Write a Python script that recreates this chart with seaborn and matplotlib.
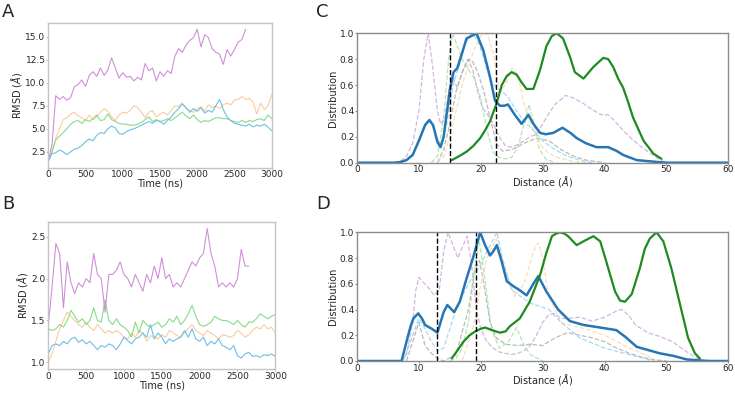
import matplotlib.pyplot as plt
import numpy as np
import seaborn as sns
from matplotlib.ticker import FormatStrFormatter

sns.set_style("ticks")
plt.rcParams["font.family"] = ["DejaVu Sans"]

# ---- RMSD traces (time sampled every 50 ns) ----
time = np.arange(0, 3001, 50)

a_purple = [1.5, 3.3, 8.6, 8.2, 8.5, 8.1, 8.4, 9.6, 9.8, 10.3, 9.6, 10.8, 11.2, 10.7, 11.6, 10.8, 11.4, 12.7,
            11.6, 10.5, 11.1, 10.6, 10.7, 10.2, 10.6, 10.3, 12.1, 11.3, 11.6, 10.2, 11.2, 10.7, 11.3, 11.0,
            12.9, 13.7, 13.3, 14.1, 14.6, 14.9, 15.8, 13.9, 15.2, 14.9, 13.7, 13.3, 13.1, 12.0, 13.6, 12.9,
            13.6, 14.4, 14.7, 15.8]
a_orange = [1.5, 2.5, 4.0, 5.0, 6.0, 6.2, 6.6, 6.8, 6.4, 6.2, 5.9, 6.5, 6.0, 6.3, 6.8, 7.2, 6.9, 6.3, 5.9, 6.5,
            6.8, 6.7, 7.0, 7.5, 7.3, 6.8, 6.2, 6.8, 7.0, 6.3, 6.6, 6.8, 6.5, 7.0, 7.5, 7.4, 7.8, 7.2, 7.0, 6.8,
            7.2, 7.4, 6.9, 7.6, 7.3, 7.5, 7.2, 7.6, 7.8, 7.6, 8.1, 8.2, 8.5, 8.2, 8.3, 7.9, 6.6, 7.8, 7.1, 7.5, 8.7]
a_green = [1.5, 2.5, 3.8, 4.2, 4.6, 5.0, 5.5, 5.8, 5.9, 5.6, 6.0, 5.8, 6.1, 6.5, 5.9, 6.0, 6.6, 6.0, 5.8, 5.6,
           5.5, 5.5, 5.4, 5.4, 5.5, 5.7, 6.0, 6.3, 5.8, 6.0, 5.8, 5.9, 6.1, 5.9, 6.2, 6.5, 6.8, 6.4, 6.1, 6.5,
           6.0, 5.7, 5.9, 5.8, 6.0, 6.2, 6.2, 6.1, 6.1, 5.9, 5.8, 5.7, 5.9, 5.7, 5.9, 5.8, 6.0, 6.1, 5.9, 6.5, 6.1]
a_blue = [1.5, 2.3, 2.4, 2.7, 2.5, 2.2, 2.5, 2.8, 2.9, 3.2, 3.6, 3.9, 3.7, 4.3, 4.6, 4.5, 5.0, 5.3, 5.1, 4.5,
          4.4, 4.7, 4.9, 5.0, 5.2, 5.4, 5.6, 5.8, 5.6, 5.9, 5.8, 5.5, 5.9, 6.3, 6.8, 7.2, 7.7, 7.3, 6.8, 7.2,
          6.9, 7.3, 6.7, 7.0, 6.8, 7.5, 8.2, 7.1, 6.3, 5.9, 5.6, 5.5, 5.4, 5.3, 5.5, 5.2, 5.4, 5.3, 5.5, 5.2, 4.8]

b_purple = [1.45, 1.9, 2.42, 2.3, 1.65, 2.2, 1.95, 1.82, 1.95, 1.9, 2.0, 1.95, 2.3, 2.05, 2.0, 1.6, 2.05, 2.05,
            2.1, 2.2, 2.05, 2.0, 1.9, 2.05, 1.95, 1.85, 2.05, 1.95, 2.15, 2.0, 2.25, 2.0, 2.05, 1.9, 1.95, 1.9,
            2.0, 2.1, 2.2, 2.15, 2.25, 2.3, 2.6, 2.3, 2.15, 1.9, 1.95, 1.9, 1.95, 1.9, 2.0, 2.35, 2.15, 2.15]
b_orange = [1.0, 1.1, 1.25, 1.4, 1.5, 1.6, 1.55, 1.5, 1.45, 1.42, 1.48, 1.42, 1.38, 1.45, 1.4, 1.35, 1.38, 1.35,
            1.38, 1.35, 1.3, 1.28, 1.35, 1.3, 1.38, 1.35, 1.25, 1.32, 1.3, 1.28, 1.33, 1.3, 1.38, 1.35, 1.32,
            1.3, 1.35, 1.4, 1.45, 1.38, 1.35, 1.32, 1.38, 1.35, 1.32, 1.28, 1.33, 1.32, 1.3, 1.32, 1.38, 1.35,
            1.3, 1.33, 1.38, 1.42, 1.4, 1.45, 1.4, 1.42, 1.35]
b_green = [1.4, 1.38, 1.4, 1.45, 1.42, 1.5, 1.62, 1.55, 1.48, 1.52, 1.45, 1.5, 1.65, 1.5, 1.48, 1.75, 1.5, 1.45,
           1.52, 1.45, 1.42, 1.38, 1.3, 1.48, 1.35, 1.5, 1.45, 1.42, 1.45, 1.48, 1.42, 1.45, 1.52, 1.48, 1.55,
           1.45, 1.5, 1.58, 1.68, 1.55, 1.45, 1.43, 1.45, 1.48, 1.55, 1.52, 1.5, 1.5, 1.48, 1.45, 1.5, 1.45,
           1.42, 1.48, 1.48, 1.52, 1.58, 1.55, 1.52, 1.55, 1.57]
b_blue = [1.1, 1.2, 1.22, 1.2, 1.25, 1.22, 1.28, 1.3, 1.24, 1.27, 1.22, 1.25, 1.2, 1.15, 1.2, 1.18, 1.22, 1.2,
          1.15, 1.22, 1.3, 1.26, 1.22, 1.28, 1.3, 1.35, 1.3, 1.45, 1.28, 1.35, 1.3, 1.22, 1.28, 1.25, 1.28, 1.3,
          1.38, 1.3, 1.4, 1.28, 1.25, 1.3, 1.2, 1.25, 1.22, 1.28, 1.2, 1.18, 1.15, 1.2, 1.08, 1.05, 1.1, 1.12,
          1.07, 1.08, 1.06, 1.09, 1.08, 1.1, 1.07]

a_yticks = [2.5, 5.0, 7.5, 10.0, 12.5, 15.0]
b_yticks = [1.0, 1.5, 2.0, 2.5]

# ---- distance distributions ----
c_blue_x = [0, 6, 7, 8, 9, 10, 11, 11.7, 12.3, 13, 13.5, 14, 14.5, 15, 15.6, 16.2, 17, 17.7, 18.5, 19.3,
            20.4, 21.5, 22.3, 23.1, 23.8, 24.4, 25.5, 26.6, 27.7, 28.5, 29.6, 30.5, 31.7, 33.2, 34.5, 35.5,
            37, 38.7, 40.6, 42, 43, 45.2, 47, 48.4, 50, 60]
c_blue_y = [0, 0, 0.005, 0.02, 0.06, 0.17, 0.29, 0.33, 0.29, 0.16, 0.12, 0.2, 0.38, 0.56, 0.70, 0.73, 0.85,
            0.96, 0.98, 1.0, 0.87, 0.66, 0.48, 0.44, 0.44, 0.45, 0.37, 0.30, 0.37, 0.30, 0.23, 0.22, 0.23,
            0.27, 0.23, 0.19, 0.15, 0.12, 0.12, 0.09, 0.06, 0.02, 0.012, 0.006, 0.0, 0.0]
c_green_x = [15.3, 16.5, 17.7, 18.8, 19.9, 20.7, 21.5, 22.5, 23.4, 24.2, 25.0, 25.8, 26.6, 27.4, 28.5, 29.6,
             30.6, 31.5, 32.3, 33.3, 34.4, 35.2, 36.6, 38.2, 39.8, 40.6, 41.4, 42.2, 43.0, 43.8, 44.6, 46.3,
             47.9, 49.2]
c_green_y = [0.02, 0.05, 0.085, 0.13, 0.19, 0.25, 0.32, 0.45, 0.60, 0.67, 0.70, 0.68, 0.62, 0.57, 0.57, 0.72,
             0.90, 0.98, 1.0, 0.96, 0.82, 0.70, 0.65, 0.74, 0.81, 0.80, 0.74, 0.65, 0.58, 0.47, 0.35, 0.17,
             0.07, 0.03]
c_purple_x = [6, 7, 8, 9, 10, 10.8, 11.5, 12.2, 13, 13.5, 14.2, 15, 15.5, 16.2, 17, 17.9, 18.7, 19.5, 20.3,
              21, 22, 23, 24, 25, 26, 27, 28, 29, 30, 31, 32, 33.7, 35, 36.5, 38, 39.5, 40.6, 41.5, 43, 44.5,
              46, 47.5, 49, 50]
c_purple_y = [0, 0.01, 0.05, 0.15, 0.4, 0.8, 1.0, 0.75, 0.4, 0.3, 0.35, 0.6, 0.65, 0.58, 0.7, 0.8, 0.72,
              0.55, 0.42, 0.38, 0.3, 0.2, 0.13, 0.12, 0.14, 0.17, 0.2, 0.22, 0.3, 0.38, 0.45, 0.52, 0.5, 0.46,
              0.41, 0.37, 0.37, 0.33, 0.25, 0.18, 0.12, 0.07, 0.02, 0]
c_grey_x = [13, 14, 15, 16, 17, 18, 18.7, 19.5, 20.5, 21.5, 22.5, 23.5, 25, 27, 29, 31, 33, 35, 37, 40]
c_grey_y = [0, 0.1, 0.3, 0.55, 0.7, 0.8, 0.78, 0.7, 0.55, 0.35, 0.15, 0.09, 0.1, 0.15, 0.19, 0.17, 0.1, 0.05,
            0.02, 0]
c_lgreen_x = [12, 13, 14, 14.8, 15.5, 16.2, 17, 18, 19, 20, 21, 22, 23, 24, 25, 26, 27, 27.8, 28.6, 29.5,
              30.5, 32]
c_lgreen_y = [0, 0.05, 0.35, 0.8, 1.0, 0.9, 0.8, 0.72, 0.65, 0.5, 0.25, 0.08, 0.04, 0.03, 0.04, 0.12, 0.3,
              0.45, 0.3, 0.1, 0.03, 0]
c_lblue_x = [7, 8, 9, 10, 11, 11.7, 12.5, 13.5, 14.5, 15.5, 16.5, 17.5, 18.5, 19.5, 20.5, 21.5, 22.5, 23.5,
             24.5, 25.5, 27, 28.5, 30, 32, 34, 36, 38]
c_lblue_y = [0, 0.02, 0.06, 0.18, 0.3, 0.33, 0.25, 0.12, 0.3, 0.6, 0.75, 0.92, 1.0, 0.95, 0.8, 0.65, 0.58,
             0.55, 0.5, 0.42, 0.32, 0.25, 0.17, 0.1, 0.05, 0.02, 0]
c_orange_x = [13, 14, 15, 16, 17, 18, 19, 20, 21, 22, 23, 24, 25, 26, 27, 28, 29, 30, 31, 33, 35, 37]
c_orange_y = [0, 0.05, 0.2, 0.4, 0.6, 0.75, 0.88, 0.98, 1.0, 0.85, 0.55, 0.6, 0.73, 0.68, 0.45, 0.3, 0.2,
              0.12, 0.07, 0.03, 0.01, 0]

d_blue_x = [0, 7.2, 8.0, 8.6, 9.1, 9.9, 10.5, 11.0, 12.1, 13.0, 13.5, 14.0, 14.6, 15.1, 15.7, 16.6, 17.7,
            18.8, 19.9, 20.7, 21.5, 22.0, 22.6, 23.4, 24.2, 25.3, 26.3, 27.4, 28.5, 29.3, 30.6, 32.5, 34.4,
            36.6, 39.3, 41.9, 43.3, 45.2, 48.9, 51.1, 53.3, 55.9, 57, 60]
d_blue_y = [0, 0, 0.15, 0.26, 0.33, 0.37, 0.33, 0.28, 0.25, 0.22, 0.30, 0.38, 0.435, 0.41, 0.38, 0.46, 0.64,
            0.81, 1.0, 0.90, 0.82, 0.85, 0.90, 0.77, 0.62, 0.58, 0.55, 0.51, 0.60, 0.66, 0.54, 0.40, 0.31,
            0.28, 0.26, 0.24, 0.19, 0.11, 0.06, 0.04, 0.012, 0.003, 0, 0]
d_green_x = [15.3, 16.2, 17.2, 18.2, 19.1, 20.0, 20.7, 21.8, 23.1, 24.0, 24.7, 26.3, 27.9, 29.6, 30.6, 31.5,
             32.2, 32.8, 33.5, 34.1, 35.5, 36.6, 38.2, 39.3, 40.3, 41.7, 42.5, 43.3, 44.4, 45.7, 46.5, 47.3,
             48.4, 49.5, 50.8, 52.2, 53.5, 54.6, 55.4]
d_green_y = [0.02, 0.08, 0.15, 0.20, 0.23, 0.25, 0.26, 0.24, 0.22, 0.23, 0.27, 0.33, 0.46, 0.67, 0.84, 0.97,
             0.99, 1.0, 0.99, 0.97, 0.90, 0.93, 0.97, 0.93, 0.77, 0.54, 0.47, 0.46, 0.52, 0.72, 0.87, 0.95,
             1.0, 0.93, 0.72, 0.44, 0.18, 0.06, 0.02]
d_purple_x = [7, 8, 9, 9.5, 10, 10.5, 11.2, 12.5, 13.3, 14, 14.7, 15.5, 16.3, 17, 17.8, 18.5, 19.3, 20, 21,
              22, 23, 24, 25, 26, 27, 28, 29, 30, 31, 31.8, 33, 34, 36, 38, 40, 42, 42.8, 44, 45, 47, 49, 51,
              53, 55, 56]
d_purple_y = [0, 0.05, 0.3, 0.55, 0.65, 0.62, 0.59, 0.51, 0.55, 0.85, 1.0, 0.9, 0.8, 0.88, 0.97, 0.75, 0.4,
              0.25, 0.15, 0.1, 0.07, 0.06, 0.05, 0.06, 0.08, 0.12, 0.2, 0.3, 0.36, 0.37, 0.33, 0.33, 0.34,
              0.31, 0.34, 0.39, 0.40, 0.35, 0.28, 0.22, 0.19, 0.15, 0.08, 0.02, 0]
d_grey_x = [8, 9, 10, 11, 12, 13, 14, 16, 18, 19, 19.8, 20.5, 21.5, 22.5, 24, 26, 28, 30, 32, 34, 36, 38, 40,
            42, 44, 46, 48, 50]
d_grey_y = [0, 0.15, 0.3, 0.12, 0.06, 0.02, 0, 0.05, 0.4, 0.7, 0.78, 0.6, 0.3, 0.18, 0.13, 0.12, 0.13, 0.12,
            0.18, 0.22, 0.2, 0.18, 0.15, 0.1, 0.06, 0.03, 0.01, 0]
d_lgreen_x = [15, 16, 17, 18, 19, 19.7, 20.5, 21.7, 23, 24.5, 25.8, 27, 28, 30]
d_lgreen_y = [0, 0.02, 0.1, 0.3, 0.7, 0.95, 0.7, 0.25, 0.1, 0.15, 0.26, 0.12, 0.05, 0]
d_lblue_x = [7.5, 9, 10, 11, 12, 13, 14, 16, 18, 20, 21.5, 22.6, 23.5, 25, 28, 31, 33, 36, 40, 44, 48]
d_lblue_y = [0, 0.2, 0.33, 0.25, 0.15, 0.08, 0.1, 0.4, 0.6, 0.75, 0.9, 1.0, 0.8, 0.55, 0.45, 0.4, 0.3, 0.18,
             0.1, 0.05, 0]
d_orange_x = [17, 19, 20, 21, 22.5, 24, 25.5, 27, 28.5, 29.3, 30, 31, 33, 35, 37, 40, 44, 48]
d_orange_y = [0, 0.3, 0.6, 0.8, 0.95, 0.7, 0.5, 0.6, 0.85, 0.92, 0.8, 0.5, 0.3, 0.27, 0.25, 0.2, 0.1, 0.02]

c_vlines = [15.0, 22.4]
d_vlines = [13.0, 19.2]

pastel = {"purple": "#d08fd8", "orange": "#fbcb9c", "green": "#86dc86", "blue": "#6cbfe6"}
faint = {"purple": "#c9a3d9", "grey": "#aaaaaa", "lgreen": "#9fe09f", "lblue": "#8fd0f0", "orange": "#f8d8a8"}

fig = plt.figure(figsize=(7.35, 3.94), dpi=100)
W, H = 735, 394


def place(l, t, r, b):
    return fig.add_axes([l / W, 1 - b / H, (r - l) / W, (b - t) / H])


def style(ax, spine_col):
    for s in ax.spines.values():
        s.set_visible(True)
        s.set_color(spine_col)
        s.set_linewidth(1.0)
    ax.tick_params(labelsize=6.5, length=1.5, width=0.8, color=spine_col, pad=0.5)


def rmsd_panel(ax, series, yticks):
    for key, vals in series:
        sns.lineplot(x=time[:len(vals)], y=vals, color=pastel[key], linewidth=0.8, ax=ax)
    ax.set_xlim(0, 3000)
    ax.set_xticks([0, 500, 1000, 1500, 2000, 2500, 3000])
    ax.set_yticks(yticks)
    ax.yaxis.set_major_formatter(FormatStrFormatter("%.1f"))
    ax.set_xlabel("Time (ns)", fontsize=7, labelpad=-0.5)
    ax.set_ylabel(r"RMSD ($\AA$)", fontsize=7, labelpad=1)
    style(ax, "#c4c4c4")


def dist_panel(ax, faint_series, blue, green, vlines):
    for key, (xs, ys) in faint_series:
        sns.lineplot(x=xs, y=ys, color=faint[key], linewidth=0.9, linestyle="--", alpha=0.8, ax=ax)
    sns.lineplot(x=blue[0], y=blue[1], color="#2676b5", linewidth=1.8, ax=ax)
    sns.lineplot(x=green[0], y=green[1], color="#1f8a1f", linewidth=1.6, ax=ax)
    for v in vlines:
        ax.axvline(v, color="black", linestyle="--", linewidth=1.0)
    ax.set_xlim(0, 60)
    ax.set_ylim(0, 1.0)
    ax.set_xticks([0, 10, 20, 30, 40, 50, 60])
    ax.set_yticks([0, 0.2, 0.4, 0.6, 0.8, 1.0])
    ax.yaxis.set_major_formatter(FormatStrFormatter("%.1f"))
    ax.set_xlabel(r"Distance ($\AA$)", fontsize=7, labelpad=-0.5)
    ax.set_ylabel("Distribution", fontsize=7, labelpad=1)
    style(ax, "#8c8c8c")


ax_a = place(48.3, 22.7, 271.7, 167.7)
rmsd_panel(ax_a, [("orange", a_orange), ("green", a_green), ("blue", a_blue), ("purple", a_purple)], a_yticks)

ax_b = place(48.3, 221.7, 275.3, 369.0)
rmsd_panel(ax_b, [("orange", b_orange), ("green", b_green), ("blue", b_blue), ("purple", b_purple)], b_yticks)

ax_c = place(357.0, 33.3, 728.3, 162.7)
dist_panel(ax_c,
           [("purple", (c_purple_x, c_purple_y)), ("grey", (c_grey_x, c_grey_y)),
            ("lgreen", (c_lgreen_x, c_lgreen_y)), ("orange", (c_orange_x, c_orange_y)),
            ("lblue", (c_lblue_x, c_lblue_y))],
           (c_blue_x, c_blue_y), (c_green_x, c_green_y), c_vlines)

ax_d = place(357.0, 232.3, 728.3, 361.0)
dist_panel(ax_d,
           [("purple", (d_purple_x, d_purple_y)), ("grey", (d_grey_x, d_grey_y)),
            ("lgreen", (d_lgreen_x, d_lgreen_y)), ("orange", (d_orange_x, d_orange_y)),
            ("lblue", (d_lblue_x, d_lblue_y))],
           (d_blue_x, d_blue_y), (d_green_x, d_green_y), d_vlines)

for letter, (px, py) in {"A": (2, 12), "B": (2, 204), "C": (316, 12), "D": (316, 204)}.items():
    fig.text(px / W, 1 - py / H, letter, fontsize=13, va="center", ha="left")

fig.savefig("out.png", dpi=100)
